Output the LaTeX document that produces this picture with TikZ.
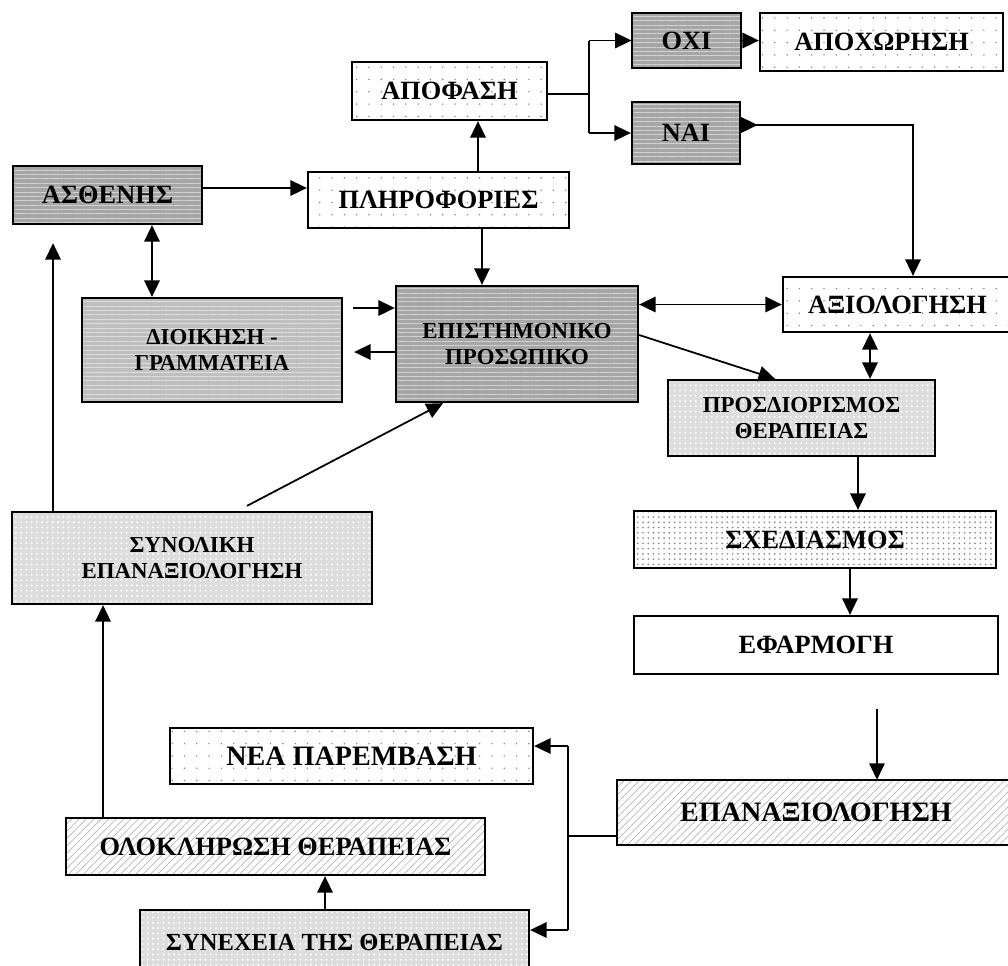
\documentclass[tikz,border=0pt]{standalone}
\usepackage{fontspec}
\setmainfont{Liberation Serif}
\usetikzlibrary{arrows.meta,patterns.meta}

\begin{document}
\begin{tikzpicture}[x=0.02cm, y=-0.02cm, line width=1pt,
    >={Triangle[length=0.33cm,width=0.31cm]},
    box/.style 2 args={draw, line width=1.3pt, minimum width=#1*0.02cm,
        minimum height=#2*0.02cm, inner sep=0pt, align=center,
        font=\bfseries\fontsize{15}{17}\selectfont},
    twoline/.style={font=\bfseries\fontsize{13}{15}\selectfont},
    bigtext/.style={font=\bfseries\fontsize{16}{18}\selectfont},
    smalltext/.style={font=\bfseries\fontsize{14}{16}\selectfont},
    darkbox/.style={preaction={fill=gray!70},
        pattern={Lines[angle=0,distance=2.5pt,line width=0.5pt]}, pattern color=gray!35},
    midbox/.style={preaction={fill=gray!50},
        pattern={Lines[angle=0,distance=2.5pt,line width=0.5pt]}, pattern color=gray!25},
    dotbox/.style={preaction={fill=white},
        pattern={Dots[distance=7pt,radius=0.45pt]}, pattern color=gray},
    densebox/.style={preaction={fill=white},
        pattern={Dots[distance=3pt,radius=0.55pt]}, pattern color=gray!90},
    greybox/.style={preaction={fill=gray!27},
        pattern={Dots[distance=3pt,radius=0.6pt]}, pattern color=white},
    hatchbox/.style={preaction={fill=white},
        pattern={Lines[angle=45,distance=3pt,line width=0.3pt]}, pattern color=gray!70}]

    % page
    \useasboundingbox (0,0) rectangle (1008,965);
    \clip (0,0) rectangle (1008,965);
    \fill[white] (0,0) rectangle (1008,965);

    % boxes
    \node[box={195}{58}, dotbox] (apofasi) at (449.5,91) {ΑΠΟΦΑΣΗ};
    \node[box={109}{55}, darkbox] (ochi) at (686.5,40.5) {ΟΧΙ};
    \node[box={243}{58}, dotbox] (apoxor) at (881.5,42) {ΑΠΟΧΩΡΗΣΗ};
    \node[box={108}{62}, darkbox] (nai) at (686,133) {ΝΑΙ};
    \node[box={189}{58}, darkbox] (asthenis) at (107.5,195) {ΑΣΘΕΝΗΣ};
    \node[box={261}{56}, dotbox] (plirof) at (438.5,200) {ΠΛΗΡΟΦΟΡΙΕΣ};
    \node[box={260}{104}, midbox, twoline] (dioikisi) at (212,350) {ΔΙΟΙΚΗΣΗ -\\ΓΡΑΜΜΑΤΕΙΑ};
    \node[box={242}{116}, darkbox, twoline] (epistim) at (517,344) {ΕΠΙΣΤΗΜΟΝΙΚΟ\\ΠΡΟΣΩΠΙΚΟ};
    \node[box={229}{55}, dotbox] (axiol) at (897.5,304.5) {ΑΞΙΟΛΟΓΗΣΗ};
    \node[box={267}{76}, greybox, twoline] (prosdior) at (801.5,418) {ΠΡΟΣΔΙΟΡΙΣΜΟΣ\\ΘΕΡΑΠΕΙΑΣ};
    \node[box={362}{57}, densebox] (sxediasmos) at (815,539.5) {ΣΧΕΔΙΑΣΜΟΣ};
    \node[box={364}{58}, fill=white] (efarmogi) at (816,645) {ΕΦΑΡΜΟΓΗ};
    \node[box={398}{65}, hatchbox, bigtext] (epanax) at (816,812.5) {ΕΠΑΝΑΞΙΟΛΟΓΗΣΗ};
    \node[box={360}{92}, greybox, twoline] (synoliki) at (192,558) {ΣΥΝΟΛΙΚΗ\\ΕΠΑΝΑΞΙΟΛΟΓΗΣΗ};
    \node[box={363}{56}, dotbox, bigtext] (nea) at (351.5,756) {ΝΕΑ ΠΑΡΕΜΒΑΣΗ};
    \node[box={419}{57}, hatchbox] (oloklirosi) at (275.5,846.5) {ΟΛΟΚΛΗΡΩΣΗ ΘΕΡΑΠΕΙΑΣ};
    \node[box={389}{65}, greybox, smalltext] (synexeia) at (334.5,942.5) {ΣΥΝΕΧΕΙΑ ΤΗΣ ΘΕΡΑΠΕΙΑΣ};

    % patient -> information, patient <-> administration
    \coordinate (a1) at ([yshift=0.14cm]asthenis.east);
    \draw[->] (a1) -- (a1 -| plirof.west);
    \coordinate (a2) at ([xshift=0.89cm]asthenis.south);
    \draw[<->] (a2) -- (a2 |- dioikisi.north);

    % information -> decision, information -> staff
    \coordinate (p1) at ([xshift=0.79cm]plirof.north);
    \draw[->] (p1) -- (p1 |- apofasi.south);
    \coordinate (p2) at ([xshift=0.87cm]plirof.south);
    \draw[->] (p2) -- (p2 |- epistim.north);

    % decision: no / yes
    \coordinate (br1) at ([xshift=0.82cm,yshift=-0.06cm]apofasi.east);
    \draw (apofasi.east |- br1) -- (br1);
    \draw (br1 |- ochi.west) -- (br1 |- nai.west);
    \draw[->] (br1 |- ochi.west) -- (ochi.west);
    \draw[->] (br1 |- nai.west) -- (nai.west);
    \draw[->] (ochi.east) -- (ochi.east -| apoxor.west);
    \coordinate (n1) at ([yshift=0.16cm]nai.east);
    \coordinate (x1) at ([xshift=0.31cm]axiol.north);
    \draw[{Triangle[length=0.33cm,width=0.31cm,reversed]}->] (n1) -| (x1);

    % staff <-> evaluation, staff -> treatment
    \draw[<->] (axiol.west -| epistim.east) -- (axiol.west);
    \draw[->] ([yshift=0.18cm]epistim.east) -- ([xshift=-0.53cm]prosdior.north);
    \coordinate (x2) at ([xshift=-0.55cm]axiol.south);
    \draw[<->] (x2) -- (x2 |- prosdior.north);

    % treatment chain
    \coordinate (s1) at ([xshift=1.13cm]prosdior.south);
    \draw[->] (s1) -- (s1 |- sxediasmos.north);
    \coordinate (s2) at ([xshift=0.7cm]sxediasmos.south);
    \draw[->] (s2) -- (s2 |- efarmogi.north);
    \coordinate (e1) at ([xshift=1.22cm,yshift=-0.68cm]efarmogi.south);
    \draw[->] (e1) -- (e1 |- epanax.north);

    % re-evaluation: new intervention / continuation
    \coordinate (e2) at ([yshift=-0.47cm]epanax.west);
    \coordinate (br2) at ([xshift=-0.98cm]e2);
    \draw (e2) -- (br2);
    \coordinate (n2) at ([yshift=0.2cm]nea.east);
    \coordinate (n3) at ([yshift=0.25cm]synexeia.east);
    \draw (br2 |- n2) -- (br2 |- n3);
    \draw[->] (br2 |- n2) -- (n2);
    \draw[->] (br2 |- n3) -- (n3);

    % continuation -> completion -> overall re-evaluation
    \coordinate (o1) at ([xshift=-0.19cm]synexeia.north);
    \draw[->] (o1) -- (o1 |- oloklirosi.south);
    \coordinate (o2) at ([xshift=-3.45cm]oloklirosi.north);
    \draw[->] (o2) -- (o2 |- synoliki.south);

    % overall re-evaluation -> staff, -> patient
    \draw[->] ([xshift=1.1cm,yshift=0.1cm]synoliki.north) -- ([xshift=-1.48cm]epistim.south);
    \coordinate (s3) at ([xshift=-2.78cm]synoliki.north);
    \coordinate (s4) at ([yshift=-0.36cm]asthenis.south);
    \draw[->] (s3) -- (s3 |- s4);

    % administration <-> staff
    \coordinate (d1) at ([xshift=0.2cm,yshift=0.84cm]dioikisi.east);
    \draw[->] (d1) -- (d1 -| epistim.west);
    \coordinate (d2) at ([xshift=0.22cm,yshift=-0.04cm]dioikisi.east);
    \draw[->] (d2 -| epistim.west) -- (d2);
\end{tikzpicture}
\end{document}
